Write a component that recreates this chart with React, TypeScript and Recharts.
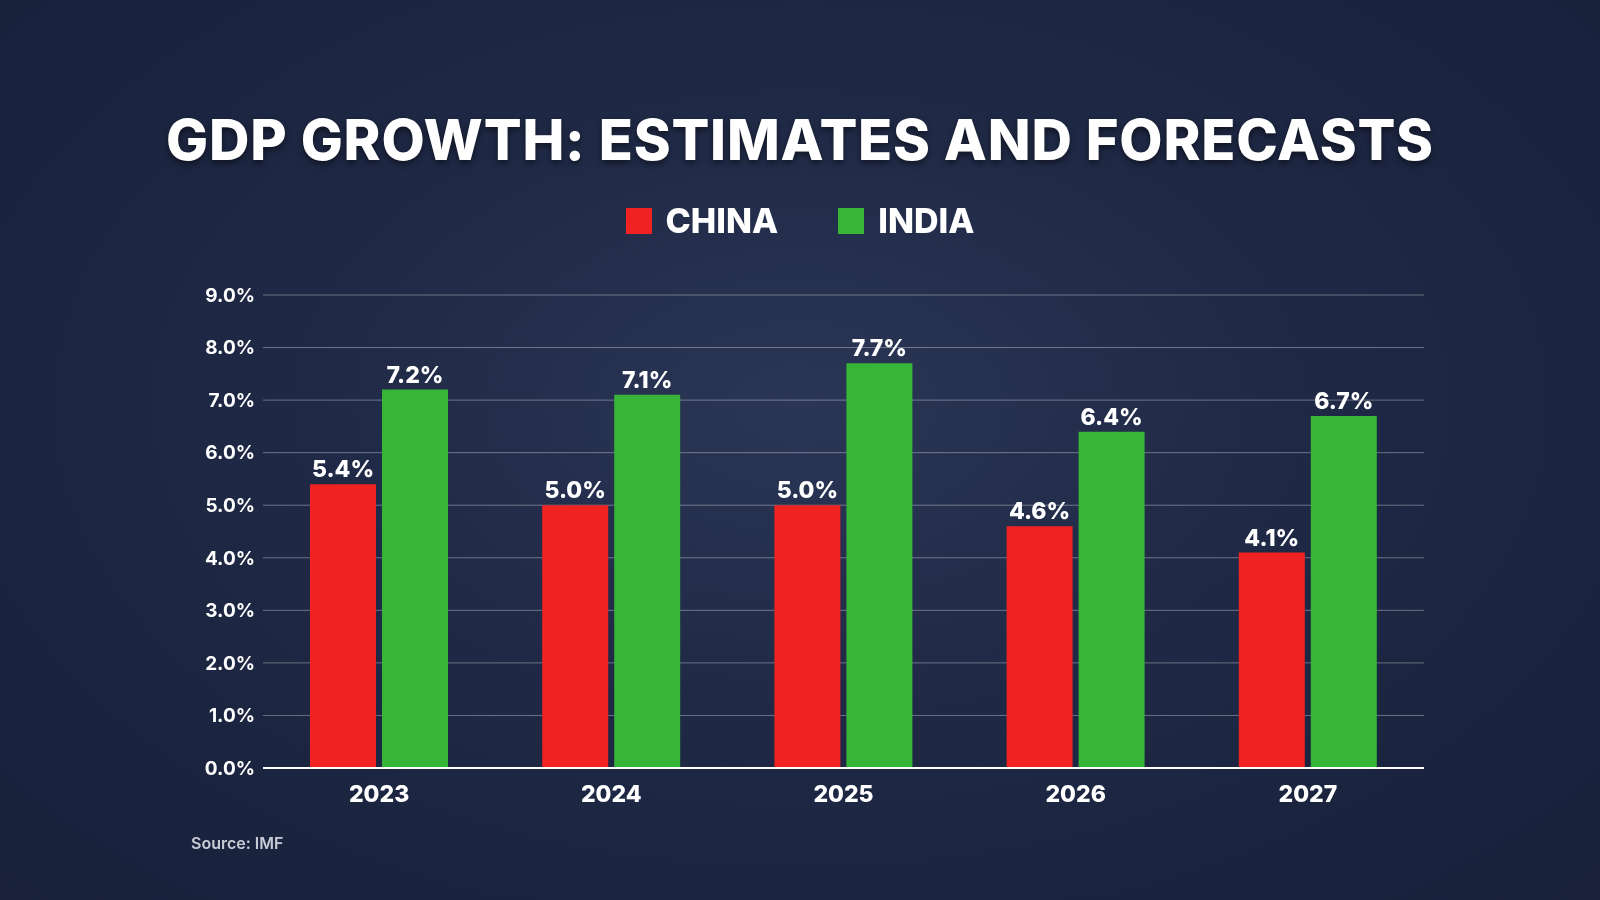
import { Bar, BarChart, CartesianGrid, LabelList, XAxis, YAxis } from "recharts";

const years = ["2023", "2024", "2025", "2026", "2027"];
const china = [5.4, 5.0, 5.0, 4.6, 4.1];
const india = [7.2, 7.1, 7.7, 6.4, 6.7];
const yTicks = [0, 1, 2, 3, 4, 5, 6, 7, 8, 9];

const rows = years.map((year, i) => ({ year, china: china[i], india: india[i] }));

const FONT = "Inter, 'Open Sans', sans-serif";
const pct = (v: number) => `${v.toFixed(1)}%`;

export default function App() {
  return (
    <div
      style={{
        position: "fixed",
        left: 0,
        top: 0,
        width: 1600,
        height: 900,
        overflow: "hidden",
        fontFamily: FONT,
        background:
          "radial-gradient(ellipse at 50% 45%, #2b3656 0%, #1f2945 45%, #18203a 100%)",
      }}
    >
      <div
        style={{
          position: "absolute",
          top: 106,
          width: 1600,
          textAlign: "center",
          color: "#fff",
          fontSize: 56,
          fontWeight: 800,
          letterSpacing: 0.8,
          textShadow: "0 3px 6px rgba(0,0,0,0.5)",
        }}
      >
        GDP GROWTH: ESTIMATES AND FORECASTS
      </div>
      <div
        style={{
          position: "absolute",
          top: 200,
          width: 1600,
          display: "flex",
          justifyContent: "center",
          gap: 60,
          color: "#fff",
          fontSize: 34,
          fontWeight: 800,
        }}
      >
        {[
          ["CHINA", "#f02222"],
          ["INDIA", "#36b537"],
        ].map(([name, color]) => (
          <div key={name} style={{ display: "flex", alignItems: "center", gap: 14 }}>
            <span style={{ width: 26, height: 26, background: color, display: "inline-block" }} />
            {name}
          </div>
        ))}
      </div>
      <div
        style={{
          position: "absolute",
          left: 191,
          top: 833,
          color: "#c8ccd6",
          fontSize: 16,
          fontWeight: 600,
        }}
      >
        Source: IMF
      </div>
      <div style={{ position: "absolute", left: 0, top: 0 }}>
        <BarChart
          width={1600}
          height={900}
          data={rows}
          margin={{ top: 295, left: 183, right: 176, bottom: 102 }}
          barGap={6}
          barCategoryGap={47}
        >
          <CartesianGrid vertical={false} stroke="rgba(255,255,255,0.35)" />
          <XAxis
            dataKey="year"
            axisLine={{ stroke: "#fff", strokeWidth: 2 }}
            tickLine={false}
            tick={{ fill: "#fff", fontSize: 23, fontWeight: 800, fontFamily: FONT, dy: 10 }}
          />
          <YAxis
            width={80}
            domain={[0, 9]}
            ticks={yTicks}
            tickFormatter={pct}
            axisLine={false}
            tickLine={false}
            tick={{ fill: "#fff", fontSize: 19, fontWeight: 700, fontFamily: FONT }}
          />
          <Bar dataKey="china" fill="#f02222" isAnimationActive={false}>
            <LabelList
              dataKey="china"
              position="top"
              offset={7}
              formatter={(v: number) => pct(v)}
              style={{ fill: "#fff", fontSize: 23, fontWeight: 800, fontFamily: FONT }}
            />
          </Bar>
          <Bar dataKey="india" fill="#36b537" isAnimationActive={false}>
            <LabelList
              dataKey="india"
              position="top"
              offset={7}
              formatter={(v: number) => pct(v)}
              style={{ fill: "#fff", fontSize: 23, fontWeight: 800, fontFamily: FONT }}
            />
          </Bar>
        </BarChart>
      </div>
    </div>
  );
}
